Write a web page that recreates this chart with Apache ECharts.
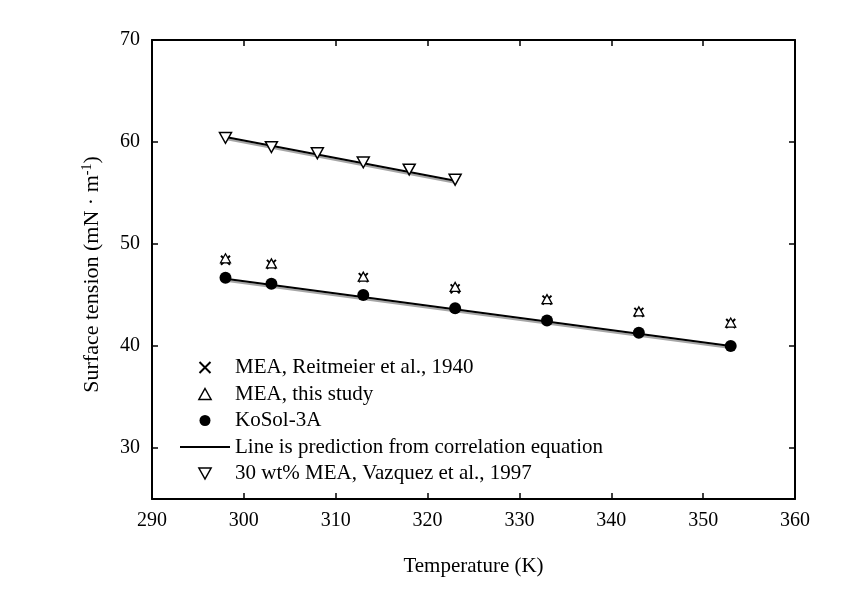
<!DOCTYPE html>
<html>
<head>
<meta charset="utf-8">
<script src="https://cdn.jsdelivr.net/npm/echarts@6/dist/echarts.min.js"></script>
<style>html,body{margin:0;padding:0;background:#fff}#c{width:841px;height:594px}</style>
</head>
<body>
<div id="c"></div>
<script>
const temps = [298, 303, 313, 323, 333, 343, 353];
const reitmeier = [48.4, 48.0, 46.7, 45.6, 44.5, 43.3, 42.2];
const thisStudy = [48.6, 48.1, 46.8, 45.8, 44.6, 43.4, 42.3];
const kosol = [46.7, 46.1, 45.0, 43.7, 42.5, 41.3, 40.0];
const vazTemps = [298, 303, 308, 313, 318, 323];
const vazquez = [60.4, 59.5, 58.9, 58.0, 57.3, 56.3];
const kosolFitT = [298, 353];
const kosolFit = [46.6, 40.0];
const vazFitT = [298, 323];
const vazFit = [60.5, 56.2];
const xTicks = [290, 300, 310, 320, 330, 340, 350, 360];
const yTicks = [30, 40, 50, 60, 70];

const names = ['MEA, Reitmeier et al., 1940', 'MEA, this study', 'KoSol-3A',
  'Line is prediction from correlation equation', '30 wt% MEA, Vazquez et al., 1997'];

const zip = (a, b) => a.map((v, i) => [v, b[i]]);
const font = 'Liberation Serif';
const chart = echarts.init(document.getElementById('c'));
const axLine = { show: true, lineStyle: { color: '#000', width: 2 } };
const tickStyle = { color: '#000', width: 1.5 };
const upTri = 'path://M5,0L10,9L0,9Z';
const downTri = 'path://M0,0L10,0L5,9Z';
const crossPath = 'path://M0,0L10,10M10,0L0,10';
const fitLine = {
  type: 'line', name: names[3], symbol: 'none', z: 1,
  lineStyle: { color: '#000', width: 2, shadowColor: 'rgba(0,0,0,0.35)', shadowOffsetY: 2, shadowBlur: 0 },
  itemStyle: { color: '#000' }
};
chart.setOption({
  animation: false,
  backgroundColor: '#fff',
  grid: { left: 152, right: 46, top: 40, bottom: 95 },
  xAxis: [
    {
      type: 'value', min: 290, max: 360, interval: 10,
      name: 'Temperature (K)', nameLocation: 'middle', nameGap: 57,
      nameTextStyle: { fontFamily: font, fontSize: 21, color: '#000' },
      axisLine: axLine, splitLine: { show: false },
      axisTick: { show: true, inside: true, length: 6, lineStyle: tickStyle, customValues: xTicks },
      axisLabel: { fontFamily: font, fontSize: 20, color: '#000', margin: 12, customValues: xTicks }
    },
    {
      type: 'value', min: 290, max: 360, interval: 10, position: 'top',
      axisLine: axLine, splitLine: { show: false },
      axisTick: { show: true, inside: true, length: 6, lineStyle: tickStyle, customValues: xTicks },
      axisLabel: { show: false }
    }
  ],
  yAxis: [
    {
      type: 'value', min: 25, max: 70, interval: 5,
      name: '{n|Surface tension (mN · m}{s|-1}{n|)}', nameLocation: 'middle', nameGap: 48,
      nameTextStyle: {
        padding: [0, 10, 0, 0],
        rich: {
          n: { fontFamily: font, fontSize: 22, color: '#000' },
          s: { fontFamily: font, fontSize: 14, color: '#000', verticalAlign: 'top', padding: [0, 0, 10, 0] }
        }
      },
      axisLine: axLine, splitLine: { show: false },
      axisTick: { show: true, inside: true, length: 6, lineStyle: tickStyle, customValues: yTicks },
      axisLabel: { fontFamily: font, fontSize: 20, color: '#000', margin: 12, customValues: yTicks }
    },
    {
      type: 'value', min: 25, max: 70, interval: 5, position: 'right',
      axisLine: axLine, splitLine: { show: false },
      axisTick: { show: true, inside: true, length: 6, lineStyle: tickStyle, customValues: yTicks },
      axisLabel: { show: false }
    }
  ],
  legend: {
    orient: 'vertical', left: 175, top: 352,
    itemWidth: 50, itemHeight: 11, itemGap: 5.5,
    symbolKeepAspect: true,
    textStyle: { fontFamily: font, fontSize: 21, color: '#000', lineHeight: 20 },
    data: [
      { name: names[0], icon: crossPath, itemStyle: { color: 'rgba(0,0,0,0)', borderColor: '#000', borderWidth: 2 } },
      { name: names[1], icon: upTri, itemStyle: { color: '#fff', borderColor: '#000', borderWidth: 1.5 } },
      { name: names[2], icon: 'circle', itemStyle: { color: '#000' } },
      { name: names[3], icon: 'path://M0,0L50,0L50,2L0,2Z', itemStyle: { color: '#000', borderWidth: 0 } },
      { name: names[4], icon: downTri, itemStyle: { color: '#fff', borderColor: '#000', borderWidth: 1.5 } }
    ]
  },
  series: [
    {
      type: 'scatter', name: names[0], data: zip(temps, reitmeier), z: 3,
      symbol: crossPath, symbolSize: 9, symbolKeepAspect: true,
      itemStyle: { color: 'rgba(0,0,0,0)', borderColor: '#000', borderWidth: 2, opacity: 1 }
    },
    {
      type: 'scatter', name: names[1], data: zip(temps, thisStudy), z: 3,
      symbol: upTri, symbolSize: 10, symbolKeepAspect: true,
      itemStyle: { color: '#fff', borderColor: '#000', borderWidth: 1.3, opacity: 1 }
    },
    {
      type: 'scatter', name: names[2], data: zip(temps, kosol), z: 4,
      symbol: 'circle', symbolSize: 12,
      itemStyle: { color: '#000', opacity: 1 }
    },
    Object.assign({ data: zip(kosolFitT, kosolFit) }, fitLine),
    Object.assign({ data: zip(vazFitT, vazFit) }, fitLine),
    {
      type: 'scatter', name: names[4], data: zip(vazTemps, vazquez), z: 3,
      symbol: downTri, symbolSize: 12, symbolKeepAspect: true,
      itemStyle: { color: '#fff', borderColor: '#000', borderWidth: 1.5, opacity: 1 }
    }
  ]
});
</script>
</body>
</html>
